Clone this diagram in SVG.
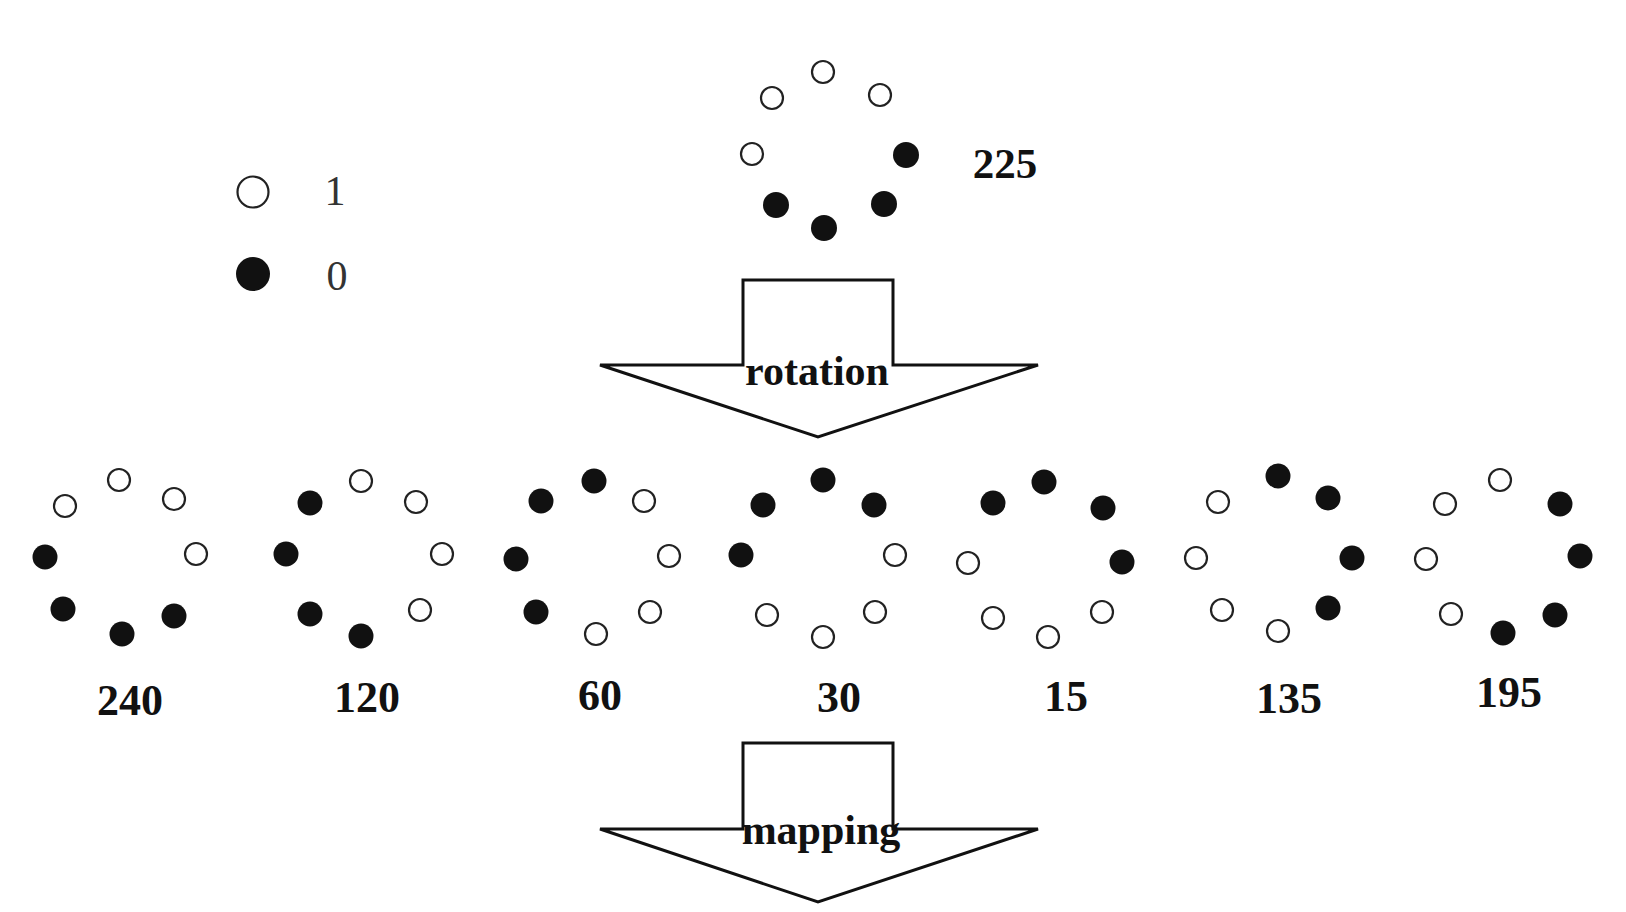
<svg xmlns="http://www.w3.org/2000/svg" width="1626" height="912" viewBox="0 0 1626 912">
<style>
.o{fill:#fff;stroke:#222;stroke-width:2.2}
.f{fill:#111;stroke:none}
.lbl{font-family:"Liberation Serif","Times New Roman",serif;font-weight:bold;font-size:44px;fill:#111;text-anchor:middle}
.leg{font-family:"Liberation Serif","Times New Roman",serif;font-size:42px;fill:#333;text-anchor:middle}
.arr{fill:#fff;stroke:#111;stroke-width:3;stroke-linejoin:miter}
.atx{font-family:"Liberation Serif","Times New Roman",serif;font-weight:bold;font-size:42px;fill:#111;text-anchor:middle}
</style>
<rect width="1626" height="912" fill="#fff"/>
<g id="legend">
<circle cx="253" cy="192" r="15.5" class="o"/>
<text x="335" y="205" class="leg">1</text>
<circle cx="253" cy="274" r="17" class="f"/>
<text x="337" y="290" class="leg">0</text>
</g>
<g id="pattern-225">
<circle cx="823" cy="72" r="11" class="o"/>
<circle cx="772" cy="98" r="11" class="o"/>
<circle cx="880" cy="95" r="11" class="o"/>
<circle cx="752" cy="154" r="11" class="o"/>
<circle cx="906" cy="155" r="13" class="f"/>
<circle cx="776" cy="205" r="13" class="f"/>
<circle cx="884" cy="204" r="13" class="f"/>
<circle cx="824" cy="228" r="13" class="f"/>
<text x="1005" y="178" class="lbl" style="font-size:43px">225</text>
</g>
<g id="connectors">
<path d="M743,365 V280 H893 V365 H1038 L818,437 L600,365 Z" class="arr"/>
<text x="817" y="385" class="atx">rotation</text>
<path d="M743,829 V743 H893 V829 H1038 L818,902 L600,829 Z" class="arr"/>
<text x="821" y="844" class="atx">mapping</text>
</g>
<g id="pattern-240">
<circle cx="65" cy="506" r="11" class="o"/>
<circle cx="119" cy="480" r="11" class="o"/>
<circle cx="174" cy="499" r="11" class="o"/>
<circle cx="196" cy="554" r="11" class="o"/>
<circle cx="45" cy="557" r="12.5" class="f"/>
<circle cx="63" cy="609" r="12.5" class="f"/>
<circle cx="122" cy="634" r="12.5" class="f"/>
<circle cx="174" cy="616" r="12.5" class="f"/>
<text x="130" y="715" class="lbl">240</text>
</g>
<g id="pattern-120">
<circle cx="310" cy="503" r="12.5" class="f"/>
<circle cx="361" cy="481" r="11" class="o"/>
<circle cx="416" cy="502" r="11" class="o"/>
<circle cx="442" cy="554" r="11" class="o"/>
<circle cx="286" cy="554" r="12.5" class="f"/>
<circle cx="310" cy="614" r="12.5" class="f"/>
<circle cx="361" cy="636" r="12.5" class="f"/>
<circle cx="420" cy="610" r="11" class="o"/>
<text x="367" y="712" class="lbl">120</text>
</g>
<g id="pattern-60">
<circle cx="541" cy="501" r="12.5" class="f"/>
<circle cx="594" cy="481" r="12.5" class="f"/>
<circle cx="644" cy="501" r="11" class="o"/>
<circle cx="669" cy="556" r="11" class="o"/>
<circle cx="516" cy="559" r="12.5" class="f"/>
<circle cx="536" cy="612" r="12.5" class="f"/>
<circle cx="596" cy="634" r="11" class="o"/>
<circle cx="650" cy="612" r="11" class="o"/>
<text x="600" y="710" class="lbl">60</text>
</g>
<g id="pattern-30">
<circle cx="763" cy="505" r="12.5" class="f"/>
<circle cx="823" cy="480" r="12.5" class="f"/>
<circle cx="874" cy="505" r="12.5" class="f"/>
<circle cx="895" cy="555" r="11" class="o"/>
<circle cx="741" cy="555" r="12.5" class="f"/>
<circle cx="767" cy="615" r="11" class="o"/>
<circle cx="823" cy="637" r="11" class="o"/>
<circle cx="875" cy="612" r="11" class="o"/>
<text x="839" y="712" class="lbl">30</text>
</g>
<g id="pattern-15">
<circle cx="993" cy="503" r="12.5" class="f"/>
<circle cx="1044" cy="482" r="12.5" class="f"/>
<circle cx="1103" cy="508" r="12.5" class="f"/>
<circle cx="1122" cy="562" r="12.5" class="f"/>
<circle cx="968" cy="563" r="11" class="o"/>
<circle cx="993" cy="618" r="11" class="o"/>
<circle cx="1048" cy="637" r="11" class="o"/>
<circle cx="1102" cy="612" r="11" class="o"/>
<text x="1066" y="711" class="lbl">15</text>
</g>
<g id="pattern-135">
<circle cx="1218" cy="502" r="11" class="o"/>
<circle cx="1278" cy="476" r="12.5" class="f"/>
<circle cx="1328" cy="498" r="12.5" class="f"/>
<circle cx="1352" cy="558" r="12.5" class="f"/>
<circle cx="1196" cy="558" r="11" class="o"/>
<circle cx="1222" cy="610" r="11" class="o"/>
<circle cx="1278" cy="631" r="11" class="o"/>
<circle cx="1328" cy="608" r="12.5" class="f"/>
<text x="1289" y="713" class="lbl">135</text>
</g>
<g id="pattern-195">
<circle cx="1445" cy="504" r="11" class="o"/>
<circle cx="1500" cy="480" r="11" class="o"/>
<circle cx="1560" cy="504" r="12.5" class="f"/>
<circle cx="1580" cy="556" r="12.5" class="f"/>
<circle cx="1426" cy="559" r="11" class="o"/>
<circle cx="1451" cy="614" r="11" class="o"/>
<circle cx="1503" cy="633" r="12.5" class="f"/>
<circle cx="1555" cy="615" r="12.5" class="f"/>
<text x="1509" y="707" class="lbl">195</text>
</g>
</svg>
